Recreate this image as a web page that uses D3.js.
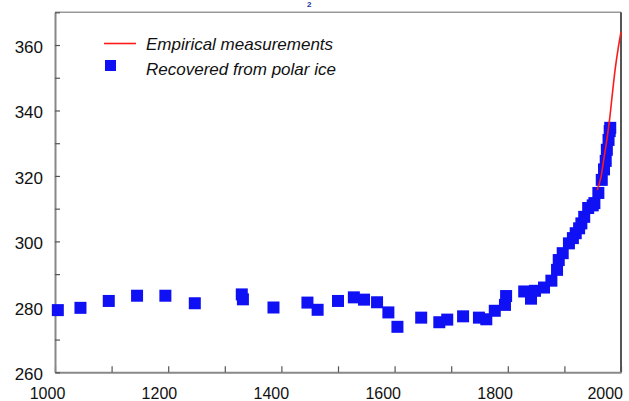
<!DOCTYPE html>
<html>
<head>
<meta charset="utf-8">
<script src="https://cdn.jsdelivr.net/npm/d3@7"></script>
<style>
  body { margin: 0; background: #fff; }
  svg { display: block; font-family: "Liberation Sans", Arial, sans-serif; }
</style>
</head>
<body>
<script>
// ice core record (year, ppm)
const iceYears = [1005, 1045, 1095, 1145, 1195, 1247, 1330, 1332, 1386, 1446, 1464, 1500,
  1528, 1546, 1569, 1589, 1605, 1647, 1679, 1693, 1721, 1749, 1762, 1777, 1795, 1797,
  1829, 1841, 1848, 1864, 1877, 1887, 1890, 1897, 1908, 1915, 1920, 1926, 1930, 1935,
  1942, 1950, 1953, 1960, 1966, 1970, 1973, 1975, 1978, 1980, 1981];
const icePpm = [279.0, 279.7, 281.8, 283.4, 283.4, 281.1, 283.8, 282.3, 279.8, 281.3, 279.1, 281.8,
  282.9, 282.2, 281.4, 278.3, 273.9, 276.7, 275.3, 276.1, 277.1, 276.7, 276.2, 278.8, 280.6, 283.3,
  284.7, 282.5, 284.9, 285.9, 288.0, 291.3, 294.3, 296.4, 299.4, 301.0, 302.5, 304.0, 305.5, 307.5,
  310.2, 311.0, 311.7, 314.8, 318.8, 322.0, 324.6, 328.0, 331.0, 333.7, 334.7];

// direct measurements
const measYears = [1958, 1965, 1970, 1975, 1980, 1985, 1990, 1995, 2000];
const measPpm = [315.7, 320.0, 325.5, 331.0, 337.5, 345.5, 353.0, 359.0, 364.0];

const xTicks = d3.range(1000, 2001, 100);
const xLabels = [1000, 1200, 1400, 1600, 1800, 2000];
const yTicks = d3.range(260, 371, 10);
const yLabels = [260, 280, 300, 320, 340, 360];

const width = 629;
const height = 401;

const svg = d3.select('body').append('svg')
    .attr('width', width)
    .attr('height', height);

const x = d3.scaleLinear().domain([1000, 2000]).range([55, 621]);
const y = d3.scaleLinear().domain([260, 370]).range([372.3, 12.3]);
// labels in the scan sit a bit left of their ticks
const xLab = d3.scaleLinear().domain([1000, 2000]).range([47.5, 607]);

// frame
svg.append('line')
    .attr('x1', x(1000)).attr('x2', x(2000))
    .attr('y1', y(370)).attr('y2', y(370))
    .attr('stroke', '#999').attr('stroke-width', 1.5);
svg.append('line')
    .attr('x1', x(2000)).attr('x2', x(2000))
    .attr('y1', y(370)).attr('y2', y(260))
    .attr('stroke', '#555').attr('stroke-width', 2);

// axes
const xAxis = svg.append('g')
    .attr('transform', `translate(0,${y(260)})`)
    .call(d3.axisBottom(x).tickValues(xTicks).tickSize(-6).tickSizeOuter(0).tickFormat(''));
const yAxis = svg.append('g')
    .attr('transform', `translate(${x(1000)},0)`)
    .call(d3.axisLeft(y).tickValues(yTicks).tickSize(-5).tickSizeOuter(0).tickFormat(''));

[xAxis, yAxis].forEach(g => {
  g.select('.domain').attr('stroke', '#888').attr('stroke-width', 2);
  g.selectAll('.tick line').attr('stroke', '#555').attr('stroke-width', 1.2);
});

svg.append('g').selectAll('text')
    .data(xLabels)
  .enter().append('text')
    .attr('x', d => d === 2000 ? 623 : xLab(d))
    .attr('y', 399)
    .attr('text-anchor', d => d === 2000 ? 'end' : 'middle')
    .attr('font-size', 16)
    .attr('fill', '#111')
    .text(d => d);

svg.append('g').selectAll('text')
    .data(yLabels)
  .enter().append('text')
    .attr('x', 43)
    .attr('y', d => y(d) + 8)
    .attr('text-anchor', 'end')
    .attr('font-size', 17)
    .attr('fill', '#111')
    .text(d => d);

// title subscript remnant at the very top
svg.append('text')
    .attr('x', 307).attr('y', 7)
    .attr('font-size', 8)
    .attr('font-weight', 'bold')
    .attr('fill', '#1a3399')
    .text('2');

// ice core squares
const sq = 12;
svg.append('g').selectAll('rect')
    .data(iceYears.map((d, i) => [d, icePpm[i]]))
  .enter().append('rect')
    .attr('x', d => x(d[0]) - sq / 2)
    .attr('y', d => y(d[1]) - sq / 2)
    .attr('width', sq)
    .attr('height', sq)
    .attr('fill', '#1010f5');

// measurements line
const line = d3.line()
    .x(d => x(d[0]))
    .y(d => y(d[1]))
    .curve(d3.curveMonotoneX);

svg.append('path')
    .datum(measYears.map((d, i) => [d, measPpm[i]]))
    .attr('d', line)
    .attr('fill', 'none')
    .attr('stroke', '#ff1a1a')
    .attr('stroke-width', 1.6);

// legend
const legend = svg.append('g');
legend.append('line')
    .attr('x1', 104).attr('x2', 136)
    .attr('y1', 43.5).attr('y2', 43.5)
    .attr('stroke', '#ff1a1a').attr('stroke-width', 1.6);
legend.append('rect')
    .attr('x', 105).attr('y', 60)
    .attr('width', 11).attr('height', 11)
    .attr('fill', '#1010f5');
legend.append('text')
    .attr('x', 146).attr('y', 49.5)
    .attr('font-size', 17).attr('font-style', 'italic').attr('fill', '#111')
    .text('Empirical measurements');
legend.append('text')
    .attr('x', 146).attr('y', 74.5)
    .attr('font-size', 17).attr('font-style', 'italic').attr('fill', '#111')
    .text('Recovered from polar ice');
</script>
</body>
</html>
